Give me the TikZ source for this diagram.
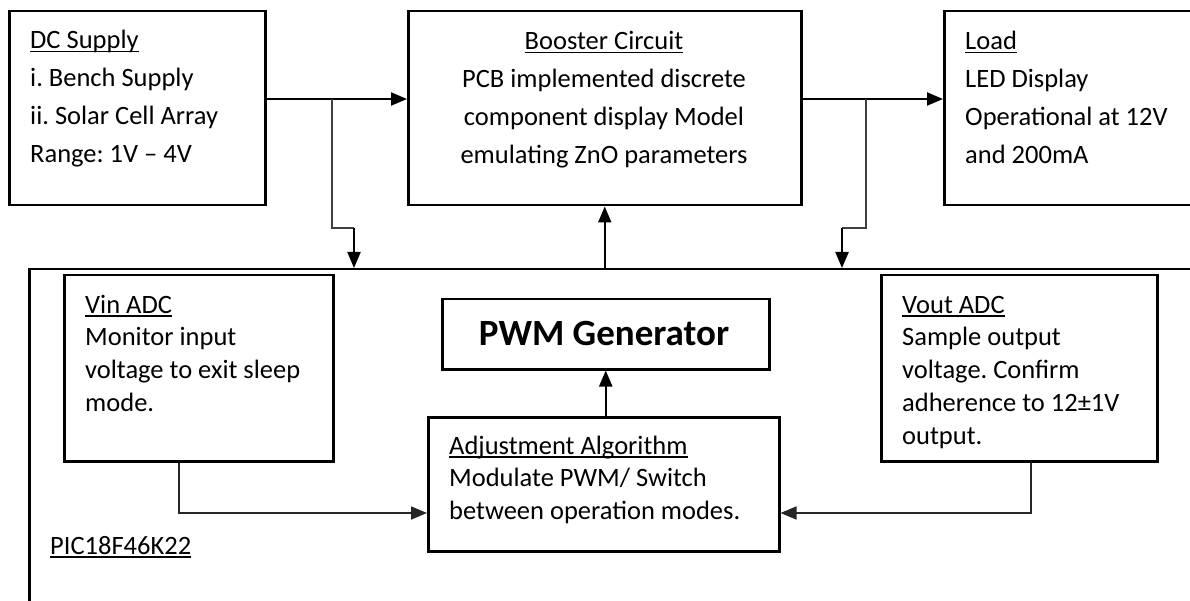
\documentclass[tikz,border=0pt]{standalone}
\usepackage{fontspec}
\setmainfont{Carlito}
\usetikzlibrary{arrows.meta}
\frenchspacing
\newcommand{\myul}[1]{\setbox0\hbox{#1}\rlap{\rule[-3.5pt]{\wd0}{1.3pt}}\box0}
\newcommand{\blk}[2]{\begin{tabular}[t]{@{}#1@{}}#2\end{tabular}}
\begin{document}
\begin{tikzpicture}[x=1pt,y=-1pt,
  box/.style={draw, line width=2.5pt, inner sep=0pt, anchor=north west},
  txt/.style={inner sep=0pt, font=\fontsize{26.5}{37.7}\selectfont},
  txtb/.style={inner sep=0pt, font=\fontsize{26.5}{32.8}\selectfont},
  arr/.style={line width=2.2pt, -{Triangle[length=16pt,width=13pt]}},
  thinl/.style={line width=1.2pt, black!75},
  fb/.style={line width=1.7pt, black!85, -{Triangle[length=16pt,width=13pt]}}]
\useasboundingbox (0,0) rectangle (1190,601);
\clip (0,0) rectangle (1190,601);

% boxes
\node[box, minimum width=256pt, minimum height=194pt] (dc) at (8,10) {};
\node[box, minimum width=393pt, minimum height=194pt] (boost) at (407,10) {};
\node[box, minimum width=300pt, minimum height=194pt] (load) at (943,10) {};
\node[box, minimum width=1200pt, minimum height=400pt] (pic) at (28,268) {};
\node[box, minimum width=269pt, minimum height=186pt] (vin) at (63,274) {};
\node[box, minimum width=276pt, minimum height=186pt] (vout) at (880,274) {};
\node[box, minimum width=327pt, minimum height=70pt] (pwm) at (441,298) {};
\node[box, minimum width=351pt, minimum height=134pt] (adj) at (427,416) {};

% texts
\node[txt, anchor=base west] (dct) at (30,49)
  {\blk{l}{\myul{DC Supply}\\ i. Bench Supply\\ ii. Solar Cell Array\\ Range: 1V – 4V}};
\node[txt, anchor=base] (boostt) at (604,50)
  {\blk{c}{\myul{Booster Circuit}\\ PCB implemented discrete\\ component display Model\\ emulating ZnO parameters}};
\node[txt, anchor=base west] (loadt) at (965,50)
  {\blk{l}{\myul{Load}\\ LED Display\\ Operational at 12V\\ and 200mA}};
\node[txtb, anchor=base west] (vint) at (85,313)
  {\blk{l}{\myul{Vin ADC}\\ Monitor input\\ voltage to exit sleep\\ mode.}};
\node[txtb, anchor=base west] (voutt) at (902,313)
  {\blk{l}{\myul{Vout ADC}\\ Sample output\\ voltage. Confirm\\ adherence to 12±1V\\ output.}};
\node[txtb, anchor=base west] (adjt) at (449,454)
  {\blk{l}{\myul{Adjustment Algorithm}\\ Modulate PWM/ Switch\\ between operation modes.}};
\node[inner sep=0pt, anchor=base, font=\fontsize{37}{44}\selectfont\bfseries] (pwmt) at (604,345) {PWM Generator};
\node[txtb, anchor=base west] (pict) at (50,554) {\myul{PIC18F46K22}};

% connectors
\coordinate (j1) at (332,99);
\coordinate (k1) at (354,228);
\coordinate (j2) at (866,99);
\coordinate (k2) at (842,228);
\coordinate (f1) at (179,513);
\coordinate (f2) at (1031,513);

\draw[arr] (dc.east |- j1) -- (boost.west |- j1);
\draw[thinl] (j1) |- (k1);
\draw[arr] (k1) -- (k1 |- pic.north);

\draw[arr] (boost.east |- j2) -- (load.west |- j2);
\draw[thinl] (j2) |- (k2);
\draw[arr] (k2) -- (k2 |- pic.north);

\draw[arr] (pic.north -| boost.south) -- (boost.south);
\draw[arr] (adj.north -| pwm.south) -- (pwm.south);

\draw[fb] (vin.south -| f1) |- (adj.west |- f1);
\draw[fb] (vout.south -| f2) |- (adj.east |- f2);
\end{tikzpicture}
\end{document}
